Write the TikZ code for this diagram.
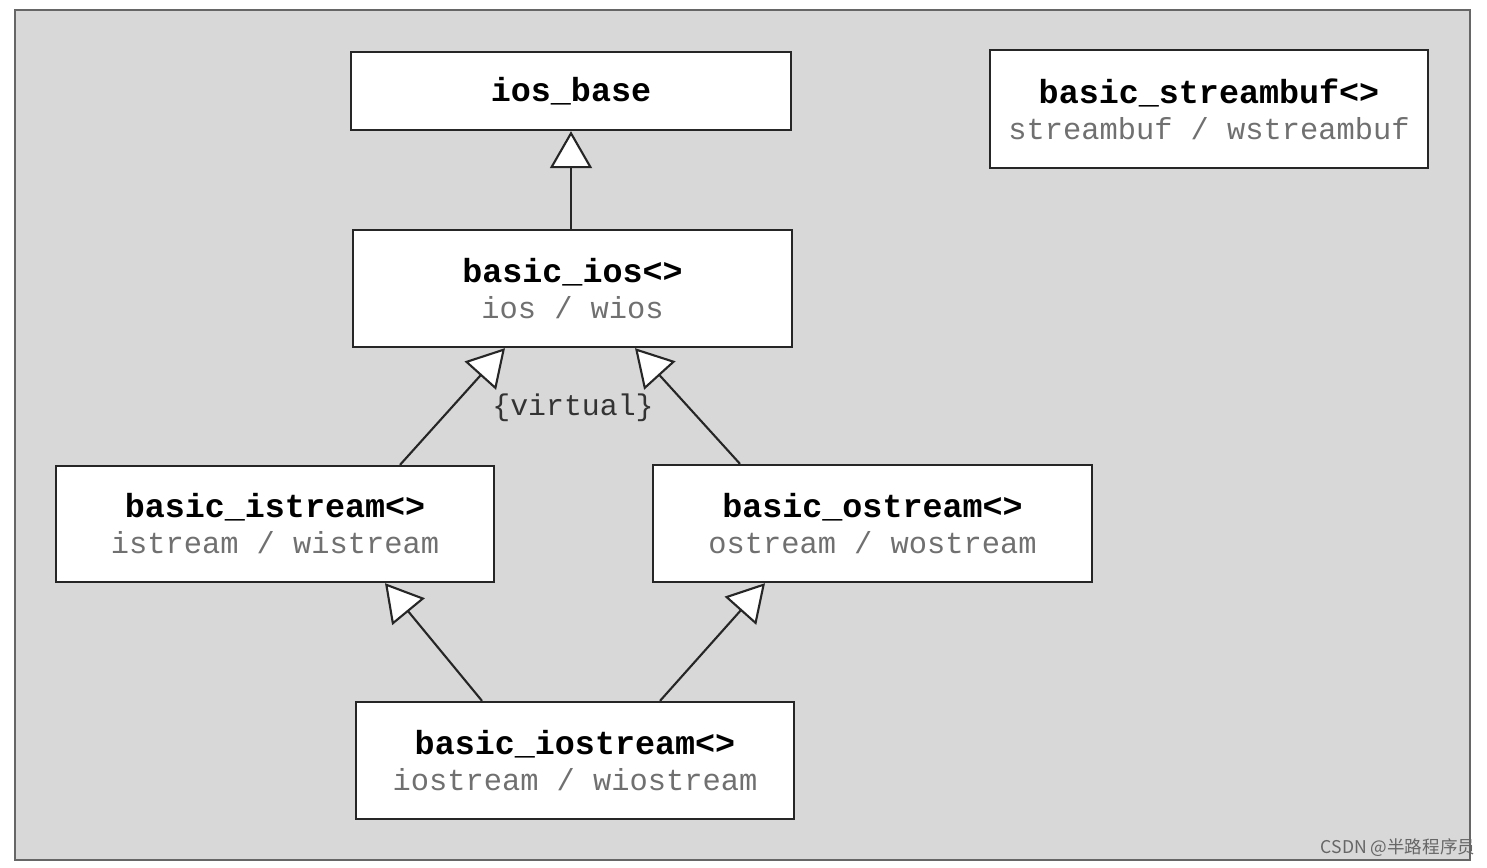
\documentclass[tikz,border=0pt]{standalone}
\usepackage{fontspec}
\setmonofont{Liberation Mono}
\newfontfamily\cjk{Noto Sans CJK SC}
\usetikzlibrary{arrows.meta}
\definecolor{bg}{HTML}{D8D8D8}
\definecolor{subt}{HTML}{707070}
\tikzset{
  cls/.style={draw=black!85, line width=1.3pt, fill=white, align=center, inner sep=0pt,
    font=\ttfamily\fontsize{19}{20.5}\selectfont},
  inh/.style={line width=1.2pt, draw=black!85, -{Triangle[open, length=0.74cm, width=0.84cm, fill=white]}}
}
\newcommand{\ttl}[1]{\textbf{#1}}
\newcommand{\sub}[1]{{\color{subt}\fontsize{17.3}{20.5}\selectfont #1}}
\begin{document}
\begin{tikzpicture}[x=0.02cm,y=-0.02cm]
\useasboundingbox (0,0) rectangle (1487,867);
\fill[white] (0,0) rectangle (1487,867);
\draw[fill=bg, draw=black!60, line width=1pt] (15,10) rectangle (1470,860);
\node[cls, minimum width=440*0.02cm, minimum height=78*0.02cm] (ios) at (571,91) {\ttl{ios\_base}};
\node[cls, minimum width=438*0.02cm, minimum height=118*0.02cm] (sb) at (1209,109) {\ttl{basic\_streambuf<>}\\\sub{streambuf / wstreambuf}};
\node[cls, minimum width=439*0.02cm, minimum height=117*0.02cm] (bios) at (572.5,288.5) {\ttl{basic\_ios<>}\\\sub{ios / wios}};
\node[cls, minimum width=438*0.02cm, minimum height=116*0.02cm] (ist) at (275,524) {\ttl{basic\_istream<>}\\\sub{istream / wistream}};
\node[cls, minimum width=439*0.02cm, minimum height=117*0.02cm] (ost) at (872.5,523.5) {\ttl{basic\_ostream<>}\\\sub{ostream / wostream}};
\node[cls, minimum width=438*0.02cm, minimum height=117*0.02cm] (iost) at (575,760.5) {\ttl{basic\_iostream<>}\\\sub{iostream / wiostream}};
\draw[inh] (bios.north -| 571,0) -- (ios.south -| 571,0);
\draw[inh] (ist.north -| 400,0) -- (bios.south -| 505,0);
\draw[inh] (ost.north -| 740,0) -- (bios.south -| 635,0);
\draw[inh] (iost.north -| 482,0) -- (ist.south -| 385,0);
\draw[inh] (iost.north -| 660,0) -- (ost.south -| 765,0);
\node[font=\ttfamily\fontsize{17}{18}\selectfont, text=black!80] (virt) at (573,408) {\{virtual\}};
\node[font=\cjk\fontsize{10}{12}\selectfont, text=black!60] (wm) at (1398,848) {CSDN @半路程序员};
\end{tikzpicture}
\end{document}
